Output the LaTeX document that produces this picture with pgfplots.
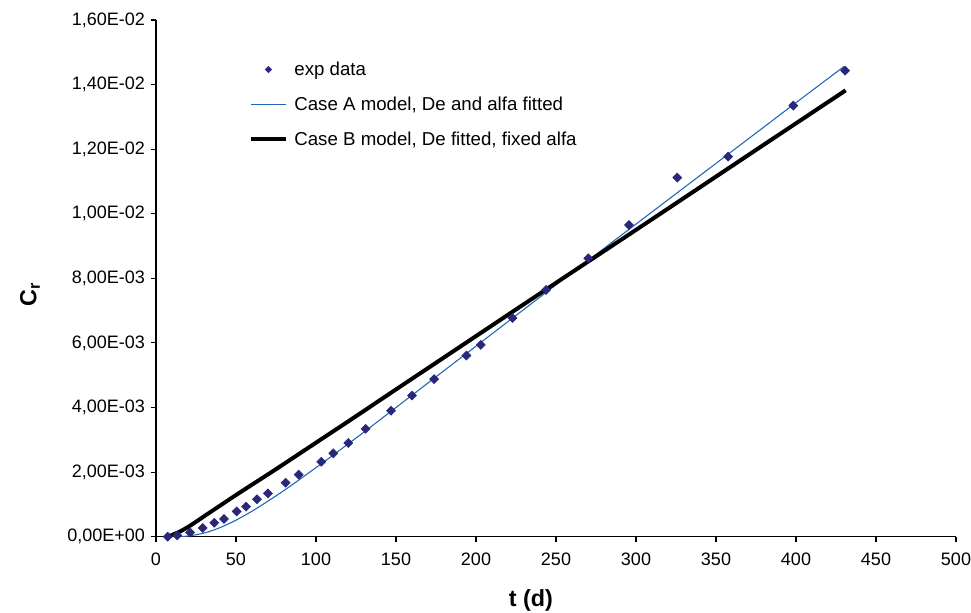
\documentclass[border=0pt]{standalone}
\usepackage{pgfplots}
\pgfplotsset{compat=1.18}
\usepackage{fontspec}
\setmainfont{Liberation Sans}
\definecolor{mk}{RGB}{42,38,122}
\definecolor{lineA}{RGB}{30,102,180}
\pgfplotsset{
  linelegend/.style={legend image code/.code={\draw[##1] (0pt,0pt) -- (26pt,0pt);}},
  marklegend/.style={legend image code/.code={\draw[mark repeat=2,mark phase=2,##1,mark size=1.7pt] plot coordinates {(0pt,0pt) (13pt,0pt) (26pt,0pt)};}},
}
\begin{document}
\begin{tikzpicture}
\path[use as bounding box] (-117pt,-56.5pt) rectangle (611.25pt,402.5pt);
\begin{axis}[
  at={(0pt,0pt)}, anchor=south west,
  scale only axis,
  width=600pt, height=387.5pt,
  xmin=0, xmax=500, ymin=0, ymax=0.016,
  axis lines*=left,
  axis line style={black, line width=0.8pt},
  tick align=outside,
  major tick length=3.75pt,
  tick style={black, line width=0.8pt},
  xtick={0,50,...,500},
  ytick={0,0.002,0.004,0.006,0.008,0.010,0.012,0.014,0.016},
  yticklabels={{0,00E+00},{2,00E-03},{4,00E-03},{6,00E-03},{8,00E-03},{1,00E-02},{1,20E-02},{1,40E-02},{1,60E-02}},
  scaled y ticks=false,
  /pgf/number format/assume math mode=true,
  tick label style={font=\fontsize{13.5}{16}\selectfont},
  xticklabel style={yshift=-5pt},
  yticklabel style={xshift=-1pt},
  xlabel={\textbf{t (d)}},
  ylabel={\textbf{C\textsubscript{r}}},
  xlabel style={font=\fontsize{17.5}{20}\selectfont, at={(axis description cs:0.4685,0)}, anchor=center, yshift=-48pt},
  ylabel style={font=\fontsize{17.5}{20}\selectfont, at={(axis description cs:-0.1575,0.468)}, anchor=center},
  clip=false,
  legend style={at={(0.111,0.93)}, anchor=north west, draw=none, fill=none,
    font=\fontsize{14}{16.5}\selectfont, row sep=10.5pt,
    nodes={inner xsep=5pt}},
  legend cell align=left,
]
\addplot[only marks, mark=square*, mark size=2.4pt, mark options={rotate=45}, color=mk, marklegend] coordinates {
(7.3,0.0) (13.3,0.00004) (21.3,0.00013) (29.2,0.00027) (36.4,0.00043)
(42.5,0.00055) (50.4,0.00078) (56.3,0.00093) (63.1,0.00116) (70,0.00134)
(81,0.00167) (89.2,0.00192) (103.3,0.00232) (110.8,0.00258) (120.2,0.0029)
(131,0.00334) (146.9,0.0039) (160,0.00437) (173.8,0.00488) (194,0.00561)
(203,0.00594) (222.8,0.00677) (243.8,0.00764) (270.2,0.00862) (295.6,0.00965)
(325.8,0.01112) (357.6,0.01177) (398.3,0.01335) (430.7,0.01443)
};
\addlegendentry{exp data}
\addplot[color=lineA, line width=0.8pt, smooth, linelegend] coordinates {
(7.5,0) (15,0.000005) (20,0.00002) (30,0.00011) (40,0.00028) (50,0.00051)
(60,0.00079) (70,0.0011) (80,0.00143) (90,0.00178) (100,0.00214) (110,0.0025)
(120,0.00287) (130,0.00324) (140,0.00362) (150,0.004) (175,0.00495) (200,0.0059)
(225,0.00685) (250,0.0078) (275,0.00874) (300,0.00968) (325,0.01062) (350,0.01156)
(375,0.0125) (400,0.01344) (430,0.01456)
};
\addlegendentry{Case A model, De and alfa fitted}
\addplot[color=black, line width=3pt, smooth, linelegend] coordinates {
(7.5,0) (10,0.00005) (15,0.00016) (20,0.0003) (25,0.00046) (30,0.00063) (40,0.00096) (50,0.00129)
(62.5,0.00169) (75,0.00209) (87.5,0.0025) (100,0.00291) (125,0.00373) (150,0.00456) (200,0.00621) (250,0.00786) (300,0.0095)
(350,0.01115) (400,0.0128) (431,0.01382)
};
\addlegendentry{Case B model, De fitted, fixed alfa}
\end{axis}
\end{tikzpicture}
\end{document}
